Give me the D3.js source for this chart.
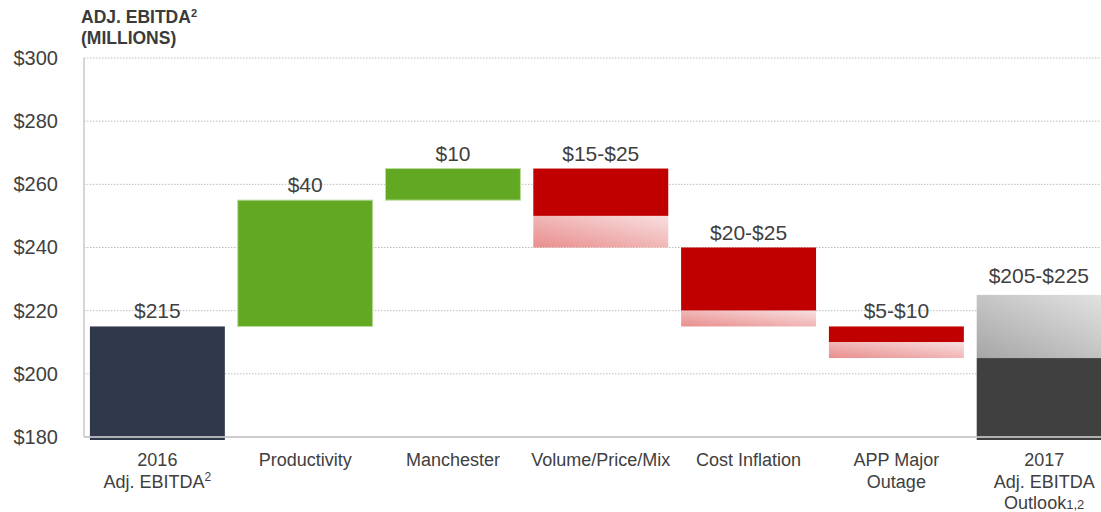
<!DOCTYPE html>
<html>
<head>
<meta charset="utf-8">
<script src="https://cdn.jsdelivr.net/npm/d3@7"></script>
<style>
  body { margin: 0; background: #fff; }
  svg { display: block; font-family: Arial, "Liberation Sans", sans-serif; }
</style>
</head>
<body>
<div id="chart"></div>
<script>
// chart data
var categories = ["2016 Adj. EBITDA", "Productivity", "Manchester", "Volume/Price/Mix",
                  "Cost Inflation", "APP Major Outage", "2017 Adj. EBITDA Outlook"];
var labelLines = [
    [["2016"], ["Adj. EBITDA", "2", "sup"]],
    [["Productivity"]],
    [["Manchester"]],
    [["Volume/Price/Mix"]],
    [["Cost Inflation"]],
    [["APP Major"], ["Outage"]],
    [["2017"], ["Adj. EBITDA"], ["Outlook", "1,2", "small"]]
];
var openValues = [180, 215, 255, 265, 240, 215, 180];
var lowChange  = [35, 40, 10, -15, -20, -5, 25];
var highChange = [35, 40, 10, -25, -25, -10, 45];
var valueLabels = ["$215", "$40", "$10", "$15-$25", "$20-$25", "$5-$10", "$205-$225"];
var barKind = ["start", "up", "up", "down", "down", "down", "end"];
var yTicks = [180, 200, 220, 240, 260, 280, 300];

var width = 1101, height = 512;

var solidColor = { start: "#2f384a", up: "#62a823", down: "#c00000", end: "#404040" };
var fadeFill = { down: "url(#fadeRed)", end: "url(#fadeGrey)" };

var svg = d3.select("#chart").append("svg")
    .attr("width", width)
    .attr("height", height);

var defs = svg.append("defs");
function gradient(id, from, to) {
    var g = defs.append("linearGradient")
        .attr("id", id)
        .attr("x1", 0).attr("y1", 1)
        .attr("x2", 1).attr("y2", 0);
    g.append("stop").attr("offset", "0%").attr("stop-color", from);
    g.append("stop").attr("offset", "100%").attr("stop-color", to);
}
gradient("fadeRed", "#e98d8d", "#f8dfdf");
gradient("fadeGrey", "#a6a6a6", "#e4e4e4");

var x = d3.scaleBand()
    .domain(categories)
    .range([84, 84 + 147.8 * 6.993])
    .paddingInner(0.087)
    .paddingOuter(0.04);

var y = d3.scaleLinear()
    .domain([180, 300])
    .range([437, 58]);

// gridlines
svg.append("g")
    .selectAll("line")
    .data(yTicks.slice(1))
    .enter()
    .append("line")
    .attr("x1", 84)
    .attr("x2", width)
    .attr("y1", d => y(d))
    .attr("y2", d => y(d))
    .style("stroke", "#bcbcbc")
    .style("stroke-width", 1)
    .style("stroke-dasharray", "1.5,1.5");

// y axis labels
var yAxis = svg.append("g")
    .attr("transform", "translate(84,0)")
    .call(d3.axisLeft(y).tickValues(yTicks).tickSize(0).tickPadding(26).tickFormat(d => "$" + d));
yAxis.select(".domain").remove();
yAxis.selectAll("text")
    .style("font-size", "20px")
    .style("font-family", "Arial, 'Liberation Sans', sans-serif")
    .style("fill", "#404040");

svg.append("line")
    .attr("x1", 84).attr("x2", 84)
    .attr("y1", y(300)).attr("y2", y(180))
    .style("stroke", "#c8c8c8")
    .style("stroke-width", 1.5);

// bars
var bars = svg.append("g")
    .selectAll("g")
    .data(categories)
    .enter()
    .append("g");

bars.append("rect")
    .attr("x", d => x(d))
    .attr("width", x.bandwidth())
    .attr("y", (d, i) => y(Math.max(openValues[i], openValues[i] + lowChange[i])))
    .attr("height", (d, i) => {
        var extra = openValues[i] === 180 ? 3 : 0;
        return Math.abs(y(openValues[i]) - y(openValues[i] + lowChange[i])) + extra;
    })
    .style("fill", (d, i) => solidColor[barKind[i]])
    .style("stroke", (d, i) => barKind[i] === "up" ? "#b9dc9a" : "none")
    .style("stroke-width", 1);

bars.filter((d, i) => highChange[i] !== lowChange[i])
    .append("rect")
    .attr("x", d => x(d))
    .attr("width", d => x.bandwidth())
    .attr("y", d => {
        var i = categories.indexOf(d);
        var a = openValues[i] + lowChange[i], b = openValues[i] + highChange[i];
        return y(Math.max(a, b));
    })
    .attr("height", d => {
        var i = categories.indexOf(d);
        return Math.abs(y(openValues[i] + lowChange[i]) - y(openValues[i] + highChange[i]));
    })
    .style("fill", d => fadeFill[barKind[categories.indexOf(d)]]);

// value labels, centred on the visible part of the bar
bars.append("text")
    .attr("x", d => (x(d) + Math.min(x(d) + x.bandwidth(), width)) / 2)
    .attr("y", (d, i) => {
        var top = Math.max(openValues[i], openValues[i] + lowChange[i], openValues[i] + highChange[i]);
        return y(top) - (barKind[i] === "end" ? 12 : 8);
    })
    .attr("text-anchor", "middle")
    .style("font-size", "21px")
    .style("fill", "#404040")
    .text((d, i) => valueLabels[i]);

// baseline
svg.append("line")
    .attr("x1", 84).attr("x2", width)
    .attr("y1", y(180)).attr("y2", y(180))
    .style("stroke", "#c4c4c4")
    .style("stroke-opacity", 0.85)
    .style("stroke-width", 2);

// category labels
var cat = svg.append("g")
    .selectAll("text")
    .data(categories)
    .enter()
    .append("text")
    .attr("text-anchor", "middle")
    .style("font-size", "18px")
    .style("fill", "#404040");

cat.each(function(d, i) {
    var t = d3.select(this);
    var cx = x(d) + x.bandwidth() / 2;
    labelLines[i].forEach(function(line, j) {
        t.append("tspan")
            .attr("x", cx)
            .attr("y", 466 + j * 21.5)
            .text(line[0]);
        if (line.length > 1) {
            t.append("tspan")
                .attr("dy", line[2] === "sup" ? -7 : 0)
                .style("font-size", line[2] === "sup" ? "12px" : "13px")
                .text(line[1]);
        }
    });
});

// title
var title = svg.append("text")
    .attr("x", 81)
    .attr("y", 22.5)
    .style("font-size", "17.5px")
    .style("font-weight", "bold")
    .style("fill", "#3a3a3a");
title.append("tspan").text("ADJ. EBITDA");
title.append("tspan").attr("dy", -6).style("font-size", "11px").text("2");
svg.append("text")
    .attr("x", 81)
    .attr("y", 43.5)
    .style("font-size", "17.5px")
    .style("font-weight", "bold")
    .style("fill", "#3a3a3a")
    .text("(MILLIONS)");
</script>
</body>
</html>
